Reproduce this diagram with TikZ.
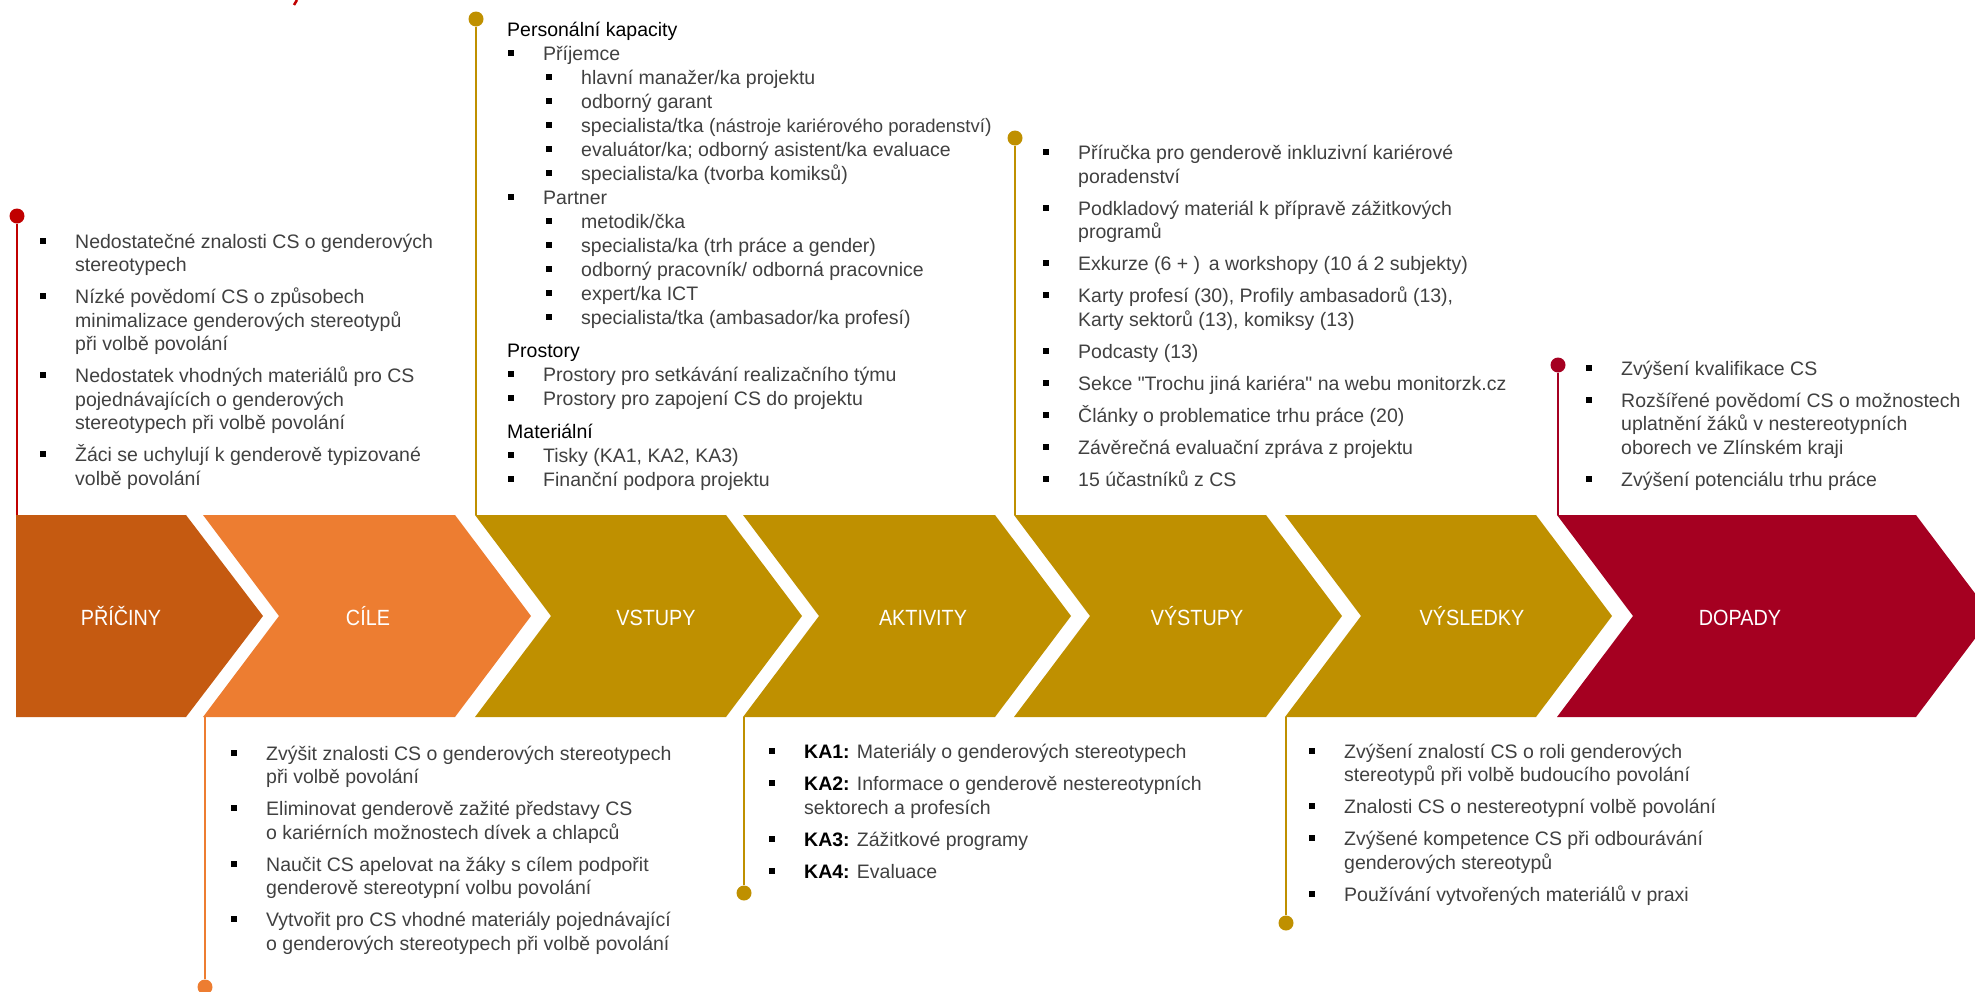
\documentclass[tikz,border=0pt]{standalone}
\usepackage{fontspec}
\setmainfont{Liberation Sans}
\newfontfamily\chevfont[FakeStretch=0.9]{Liberation Sans}

\definecolor{pricinycol}{HTML}{C55A11}
\definecolor{cilecol}{HTML}{ED7D31}
\definecolor{goldcol}{HTML}{BF9000}
\definecolor{dopadycol}{HTML}{A50021}
\definecolor{redcol}{HTML}{C00000}
\definecolor{textcol}{HTML}{404040}

\newcommand{\bul}{\makebox[35pt][l]{\color{black}\raisebox{4.5pt}{\rule{6pt}{6pt}}}}
\newcommand{\ind}{\hspace*{35pt}}
\newcommand{\hdg}[1]{{\color{black}#1}}
\newcommand{\ka}[1]{{\color{black}\bfseries #1}}

\begin{document}
\begin{tikzpicture}[x=1pt, y=-1pt,
  lbl/.style={text=white, anchor=base, inner sep=0, font=\chevfont\fontsize{22}{26}\selectfont},
  txt/.style={text=textcol, anchor=base west, inner sep=0, align=left, font=\fontsize{19.5}{23.5}\selectfont},
  dot/.style={circle, fill=#1, inner sep=0, minimum size=15pt},
  link/.style={draw=#1, line width=2.5pt}]
\useasboundingbox (0,0) rectangle (1975,991);
\clip (0,0) rectangle (1975,991);

% chevrons
\fill[pricinycol] (16,515) -- (186,515) -- (263,616) -- (186,717) -- (16,717) -- cycle;
\foreach \a/\b/\c in {203/455/cilecol, 475/726/goldcol, 743/995/goldcol, 1014/1266/goldcol, 1285/1536/goldcol, 1557/1916/dopadycol}
  \fill[\c] (\a,515) -- (\b,515) -- ++(76,101) -- (\b,717) -- (\a,717) -- ++(76,-101) -- cycle;

\node[lbl] (priciny) at (121,625) {PŘÍČINY};
\node[lbl] (cile) at (368,625) {CÍLE};
\node[lbl] (vstupy) at (656,625) {VSTUPY};
\node[lbl] (aktivity) at (923,625) {AKTIVITY};
\node[lbl] (vystupy) at (1197,625) {VÝSTUPY};
\node[lbl] (vysledky) at (1472,625) {VÝSLEDKY};
\node[lbl] (dopady) at (1740,625) {DOPADY};

% corners where the callout lines meet the chevrons
\coordinate (cPriciny) at (17,515);
\coordinate (cCile) at (205,717);
\coordinate (cVstupy) at (476,515);
\coordinate (cAktivity) at (744,717);
\coordinate (cVystupy) at (1015,515);
\coordinate (cVysledky) at (1286,717);
\coordinate (cDopady) at (1558,515);

\node[dot=redcol] (dPriciny) at (17,216) {};
\node[dot=cilecol] (dCile) at (205,987) {};
\node[dot=goldcol] (dVstupy) at (476,19) {};
\node[dot=goldcol] (dAktivity) at (744,893) {};
\node[dot=goldcol] (dVystupy) at (1015,138) {};
\node[dot=goldcol] (dVysledky) at (1286,923) {};
\node[dot=dopadycol] (dDopady) at (1558,365) {};

\draw[link=redcol] (dPriciny) -- (cPriciny);
\draw[link=cilecol] (dCile) -- (cCile);
\draw[link=goldcol] (dVstupy) -- (cVstupy);
\draw[link=goldcol] (dAktivity) -- (cAktivity);
\draw[link=goldcol] (dVystupy) -- (cVystupy);
\draw[link=goldcol] (dVysledky) -- (cVysledky);
\draw[link=dopadycol] (dDopady) -- (cDopady);
\draw[redcol, line width=2.5pt] (297,0) -- (294,5);

% texts (placed by the baseline of their last line)
\node[txt] (tPriciny) at (40,485) {\bul Nedostatečné znalosti CS o genderových\\ \ind stereotypech\\[8.5pt]
  \bul Nízké povědomí CS o způsobech\\ \ind minimalizace genderových stereotypů\\ \ind při volbě povolání\\[8.5pt]
  \bul Nedostatek vhodných materiálů pro CS\\ \ind pojednávajících o genderových\\ \ind stereotypech při volbě povolání\\[8.5pt]
  \bul Žáci se uchylují k genderově typizované\\ \ind volbě povolání};

\node[txt] (tCile) at (231,950) {\bul Zvýšit znalosti CS o genderových stereotypech\\ \ind při volbě povolání\\[8.5pt]
  \bul Eliminovat genderově zažité představy CS\\ \ind o kariérních možnostech dívek a chlapců\\[8.5pt]
  \bul Naučit CS apelovat na žáky s cílem podpořit\\ \ind genderově stereotypní volbu povolání\\[8.5pt]
  \bul Vytvořit pro CS vhodné materiály pojednávající\\ \ind o genderových stereotypech při volbě povolání};

\node[txt, font=\fontsize{19.5}{24}\selectfont] (tVstupy) at (507,486) {\hdg{Personální kapacity}\\
  \hspace*{1pt}\bul Příjemce\\
  \hspace*{39pt}\bul hlavní manažer/ka projektu\\
  \hspace*{39pt}\bul odborný garant\\
  \hspace*{39pt}\bul specialista/tka ({\fontsize{18.5}{24}\selectfont nástroje kariérového poradenství})\\
  \hspace*{39pt}\bul evaluátor/ka; odborný asistent/ka evaluace\\
  \hspace*{39pt}\bul specialista/ka (tvorba komiksů)\\
  \hspace*{1pt}\bul Partner\\
  \hspace*{39pt}\bul metodik/čka\\
  \hspace*{39pt}\bul specialista/ka (trh práce a gender)\\
  \hspace*{39pt}\bul odborný pracovník/ odborná pracovnice\\
  \hspace*{39pt}\bul expert/ka ICT\\
  \hspace*{39pt}\bul specialista/tka (ambasador/ka profesí)\\[9pt]
  \hdg{Prostory}\\
  \hspace*{1pt}\bul Prostory pro setkávání realizačního týmu\\
  \hspace*{1pt}\bul Prostory pro zapojení CS do projektu\\[9pt]
  \hdg{Materiální}\\
  \hspace*{1pt}\bul Tisky (KA1, KA2, KA3)\\
  \hspace*{1pt}\bul Finanční podpora projektu};

\node[txt] (tAktivity) at (769,878) {\bul \ka{KA1:} Materiály o genderových stereotypech\\[8.5pt]
  \bul \ka{KA2:} Informace o genderově nestereotypních\\ \ind sektorech a profesích\\[8.5pt]
  \bul \ka{KA3:} Zážitkové programy\\[8.5pt]
  \bul \ka{KA4:} Evaluace};

\node[txt] (tVystupy) at (1043,486) {\bul Příručka pro genderově inkluzivní kariérové\\ \ind poradenství\\[8.5pt]
  \bul Podkladový materiál k přípravě zážitkových\\ \ind programů\\[8.5pt]
  \bul Exkurze (6 + )\, a workshopy (10 á 2 subjekty)\\[8.5pt]
  \bul Karty profesí (30), Profily ambasadorů (13),\\ \ind Karty sektorů (13), komiksy (13)\\[8.5pt]
  \bul Podcasty (13)\\[8.5pt]
  \bul Sekce \textquotedbl Trochu jiná kariéra\textquotedbl{} na webu monitorzk.cz\\[8.5pt]
  \bul Články o problematice trhu práce (20)\\[8.5pt]
  \bul Závěrečná evaluační zpráva z projektu\\[8.5pt]
  \bul 15 účastníků z CS};

\node[txt] (tVysledky) at (1309,901) {\bul Zvýšení znalostí CS o roli genderových\\ \ind stereotypů při volbě budoucího povolání\\[8.5pt]
  \bul Znalosti CS o nestereotypní volbě povolání\\[8.5pt]
  \bul Zvýšené kompetence CS při odbourávání\\ \ind genderových stereotypů\\[8.5pt]
  \bul Používání vytvořených materiálů v praxi};

\node[txt] (tDopady) at (1586,486) {\bul Zvýšení kvalifikace CS\\[8.5pt]
  \bul Rozšířené povědomí CS o možnostech\\ \ind uplatnění žáků v nestereotypních\\ \ind oborech ve Zlínském kraji\\[8.5pt]
  \bul Zvýšení potenciálu trhu práce};
\end{tikzpicture}
\end{document}
